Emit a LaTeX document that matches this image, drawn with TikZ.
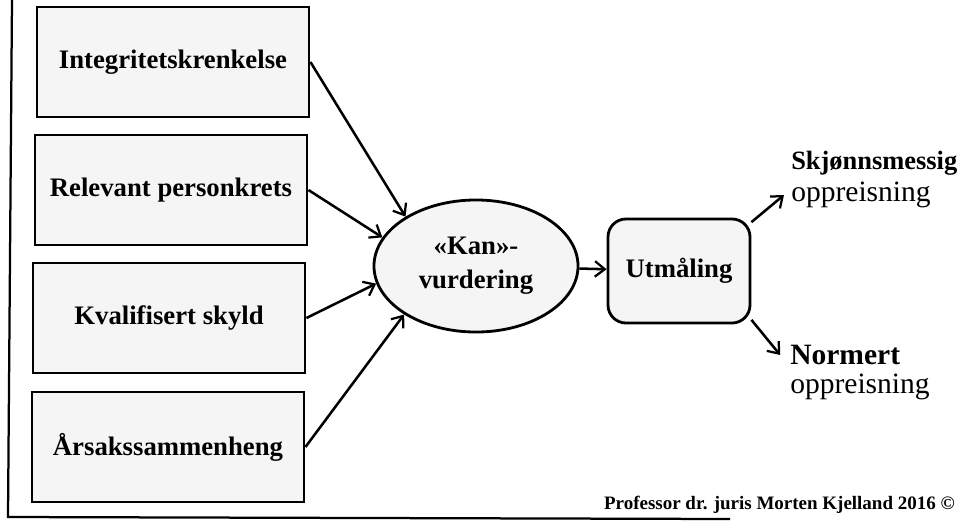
\documentclass[tikz,border=0pt]{standalone}
\usepackage{fontspec}
\setmainfont{Liberation Serif}
\usetikzlibrary{shapes.geometric, arrows.meta}

\begin{document}
\begin{tikzpicture}[x=0.025cm, y=-0.025cm,
	felt/.style={draw, line width=2pt, fill=gray!8, rectangle, minimum width=6.8cm, minimum height=2.75cm, font=\fontsize{19}{22}\selectfont\bfseries},
	pil/.style={-{Straight Barb[length=7pt, width=11pt, line width=1.6pt]}, line width=1.8pt},
	utfall/.style={anchor=west, inner sep=0pt}]
		\useasboundingbox (0,0) rectangle (960,528);
		
		% ramme
		\draw[line width=1.6pt] (12,0) -- (8,517) -- (730,519);
		
		% vilkår
		\node[felt] (integ) at (173,62) {Integritetskrenkelse};
		\node[felt] (relev) at (171,190) {Relevant personkrets};
		\node[felt] (kvali) at (169,318) {Kvalifisert skyld};
		\node[felt] (arsak) at (168,447) {Årsakssammenheng};
		
		\node[draw, ellipse, line width=2pt, fill=gray!8, minimum width=5.1cm, minimum height=3.3cm, align=center, font=\fontsize{19}{24}\selectfont\bfseries] (kan) at (476,266) {«Kan»-\\vurdering};
		\node[draw, rectangle, rounded corners=0.45cm, line width=2pt, fill=gray!8, minimum width=3.55cm, minimum height=2.6cm, font=\fontsize{19}{22}\selectfont\bfseries] (utm) at (679,271) {Utmåling};
		
		% resultat
		\node[utfall, font=\fontsize{18.8}{22}\selectfont\bfseries] (skj) at (791,163) {Skjønnsmessig};
		\node[utfall, font=\fontsize{21}{24}\selectfont] (skjopp) at (791,195) {oppreisning};
		\node[utfall, font=\fontsize{21}{24}\selectfont\bfseries] (norm) at (790,355) {Normert};
		\node[utfall, font=\fontsize{21}{24}\selectfont] (normopp) at (790,387) {oppreisning};
		
		\node[anchor=east, inner sep=0pt, font=\fontsize{13.5}{15}\selectfont\bfseries] (prof) at (955,505) {Professor dr. juris Morten Kjelland 2016 ©};
		
		\draw[pil] (integ.east) -- (kan.145);
		\draw[pil] (relev.east) -- (kan.163);
		\draw[pil] (kvali.east) -- (kan.190);
		\draw[pil] (arsak.east) -- (kan.214);
		\draw[pil] (kan) -- (utm);
		\draw[pil] (utm.34) -- ([xshift=-5]skjopp.west);
		\draw[pil] (utm.-34) -- ([xshift=-7]norm.west);
	\end{tikzpicture}
\end{document}
